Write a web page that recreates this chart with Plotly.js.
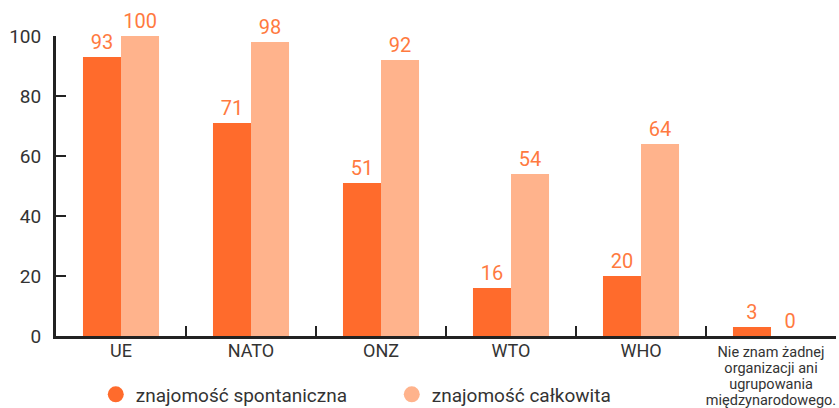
<!DOCTYPE html>
<html><head><meta charset="utf-8">
<script src="https://cdn.plot.ly/plotly-3.0.1.min.js"></script>
<style>html,body{margin:0;padding:0;background:#fff}#chart{width:839px;height:408px}</style>
</head><body><div id="chart"></div>
<script>
const categories = ["UE", "NATO", "ONZ", "WTO", "WHO", "Nie znam żadnej organizacji ani ugrupowania międzynarodowego."];
const spontaneous = [93, 71, 51, 16, 20, 3];
const total = [100, 98, 92, 54, 64, 0];
const seriesNames = ["znajomość spontaniczna", "znajomość całkowita"];
const tickLines = [["UE"], ["NATO"], ["ONZ"], ["WTO"], ["WHO"], ["Nie znam żadnej", "organizacji ani", "ugrupowania", "międzynarodowego."]];

const dark = "#FF6B2C", light = "#FFB38C", labelColor = "#FF7A3F";
const font = "Roboto, 'Open Sans', sans-serif";

const tickText = tickLines.map(lines => lines.map(l =>
  `<span style="font-size:${lines.length > 1 ? 14.5 : 18}px">${l}</span>`).join("<br>"));

const traces = [
  {type:"bar", x:categories, y:spontaneous, marker:{color:dark}, text:spontaneous.map(String), textposition:"outside",
   textfont:{color:labelColor, size:20, family:font}, cliponaxis:false, showlegend:false, hoverinfo:"none"},
  {type:"bar", x:categories, y:total, marker:{color:light}, text:total.map(String), textposition:"outside",
   textfont:{color:labelColor, size:20, family:font}, cliponaxis:false, showlegend:false, hoverinfo:"none"},
  {type:"scatter", mode:"markers", x:[null], y:[null], name:seriesNames[0], marker:{color:dark, size:20, symbol:"circle"}},
  {type:"scatter", mode:"markers", x:[null], y:[null], name:seriesNames[1], marker:{color:light, size:20, symbol:"circle"}}
];

const layout = {
  width:839, height:408,
  margin:{l:56, r:3, t:36, b:72, autoexpand:false},
  barmode:"group", bargap:0.415, bargroupgap:0,
  font:{family:font, color:"#333", size:18},
  paper_bgcolor:"#fff", plot_bgcolor:"#fff",
  xaxis:{type:"category", range:[-0.5,5.5], showline:true, linecolor:"#222", linewidth:3, automargin:false,
    ticks:"inside", tickson:"boundaries", ticklen:10, tickwidth:2, tickcolor:"#222", tickangle:0, ticklabelstandoff:3,
    tickvals:categories, ticktext:tickText, tickfont:{size:12.3, color:"#333"}, showgrid:false, zeroline:false, fixedrange:true},
  yaxis:{range:[0,100], tickvals:[0,20,40,60,80,100], showline:true, linecolor:"#222", linewidth:3, automargin:false,
    ticks:"inside", ticklen:10, tickwidth:2, tickcolor:"#222", tickfont:{size:19, color:"#333"},
    showgrid:false, zeroline:false, fixedrange:true, ticklabelstandoff:8},
  showlegend:true,
  legend:{orientation:"h", x:0.051, xanchor:"left", y:-0.195, yanchor:"middle", font:{size:19, color:"#333"},
    bgcolor:"rgba(0,0,0,0)", entrywidth:251, entrywidthmode:"pixels", itemsizing:"trace"}
};

Plotly.newPlot("chart", traces, layout, {displayModeBar:false, staticPlot:true});
</script></body></html>
